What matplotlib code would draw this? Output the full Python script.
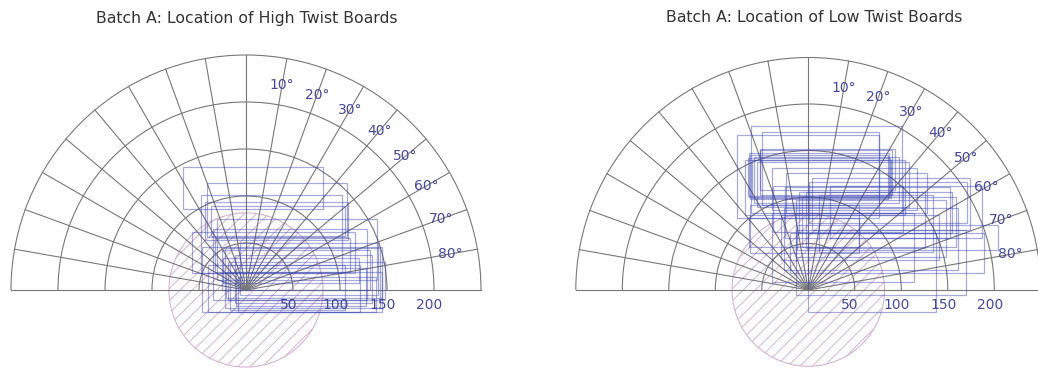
import numpy as np
import matplotlib.pyplot as plt
from matplotlib.patches import Rectangle, Circle, Arc

# polar grid of the log end (mm from pith)
RINGS = [50, 100, 150, 200, 250]
RING_LABELS = [50, 100, 150, 200]
RAY_ANGLES = list(range(-90, 91, 10))      # degrees from vertical
ANGLE_LABELS = [10, 20, 30, 40, 50, 60, 70, 80]
PITH_RADIUS = 82

# high twist boards: left, right, bottom, top edges (mm)
high_left = [-67, -41, -48, -44, -37, -57, -31, -35, -47, -22, -12, -19, -40, -17, -6, -26, -11, -33, -21, -9, -24]
high_right = [82, 107, 102, 109, 105, 116, 139, 129, 145, 143, 134, 148, 121, 105, 140, 132, 128, 111, 145, 138, 120]
high_bottom = [86, 56, 18, 53, 57, 18, 11, -11, -23, -19, -14, -11, -23, -21, -5, 0, -17, 19, -9, -23, 7]
high_top = [131, 114, 101, 94, 89, 62, 76, 65, 46, 45, 37, 30, 27, 27, 50, 43, 23, 55, 19, 14, 34]

# low twist boards
low_left = [-62, -77, -50, -64, -63, -58, -55, -39, -24, -68, -52, 1, -10, -7, -13, -39, -13, 0, -64,
            -20, -12, -26, -63, -29, -25, -2, 11, -38, -52, -65, -61, 4, 23]
low_right = [101, 76, 76, 87, 86, 97, 108, 117, 128, 104, 93, 171, 154, 159, 148, 114, 170, 137, 55,
             189, 204, 161, 55, 140, 152, 125, 134, 102, 90, 88, 89, 174, 187]
low_bottom = [83, 77, 91, 100, 98, 94, 89, 86, 83, 81, 108, 72, 61, 46, 35, 9, -5, -24, 46,
              18, 43, 22, 40, 32, 56, 45, 41, 62, 102, 101, 99, 65, 56]
low_top = [176, 167, 170, 147, 145, 143, 138, 131, 126, 140, 152, 116, 105, 100, 97, 83, 65, 61, 77,
           61, 70, 88, 91, 81, 111, 105, 102, 112, 151, 142, 140, 120, 112]

GRID_COLOR = '#787878'
BOARD_COLOR = '#3943b0'
LABEL_COLOR = '#44489c'
PITH_COLOR = '#d6b3d2'


def draw_panel(ax, left, right, bottom, top):
    # pith zone, hatched
    pith = Circle((0, 0), PITH_RADIUS, fill=False, ec=PITH_COLOR, lw=0.8, zorder=1)
    ax.add_patch(pith)
    xs = np.array([-2 * PITH_RADIUS, 2 * PITH_RADIUS])
    for c in np.arange(-2 * PITH_RADIUS, 2 * PITH_RADIUS, 13):
        ln, = ax.plot(xs, xs + c, color=PITH_COLOR, lw=0.7, zorder=1)
        ln.set_clip_path(pith)

    # concentric rings and rays
    for r in RINGS:
        ax.add_patch(Arc((0, 0), 2 * r, 2 * r, theta1=0, theta2=180,
                         color=GRID_COLOR, lw=0.8, zorder=2))
    for a in RAY_ANGLES:
        t = np.radians(a)
        ax.plot([0, RINGS[-1] * np.sin(t)], [0, RINGS[-1] * np.cos(t)],
                color=GRID_COLOR, lw=0.8, zorder=2)

    # boards
    for x0, x1, y0, y1 in zip(left, right, bottom, top):
        ax.add_patch(Rectangle((x0, y0), x1 - x0, y1 - y0, fill=False,
                               ec=BOARD_COLOR, lw=0.9, alpha=0.45, zorder=3))

    # labels
    for a in ANGLE_LABELS:
        t = np.radians(a)
        ax.text(221 * np.sin(t), 221 * np.cos(t), f'{a}°', color=LABEL_COLOR,
                fontsize=10, ha='center', va='center', zorder=4)
    for r in RING_LABELS:
        ax.text(r - 5, -16, str(r), color=LABEL_COLOR, fontsize=10,
                ha='center', va='center', zorder=4)
    ax.set_axis_off()


W, H = 1038, 368
fig = plt.figure(figsize=(W / 100, H / 100), dpi=100)

# each panel: pixel span, pith position, px per mm
panels = [
    (0, 519, 246, 290, 0.94, high_left, high_right, high_bottom, high_top),
    (519, 1038, 808.3, 290, 0.93, low_left, low_right, low_bottom, low_top),
]
for px0, px1, cx, cy, s, l, r, b, t in panels:
    ax = fig.add_axes([px0 / W, 0, (px1 - px0) / W, 1])
    ax.set_xlim((px0 - cx) / s, (px1 - cx) / s)
    ax.set_ylim(-(H - cy) / s, cy / s)
    draw_panel(ax, l, r, b, t)

fig.text(247 / W, 1 - 18 / H, 'Batch A: Location of High Twist Boards',
         ha='center', va='center', fontsize=11.3, color='#333333')
fig.text(814 / W, 1 - 18 / H, 'Batch A: Location of Low Twist Boards',
         ha='center', va='center', fontsize=11.3, color='#333333')

fig.savefig('out.png', dpi=100)
